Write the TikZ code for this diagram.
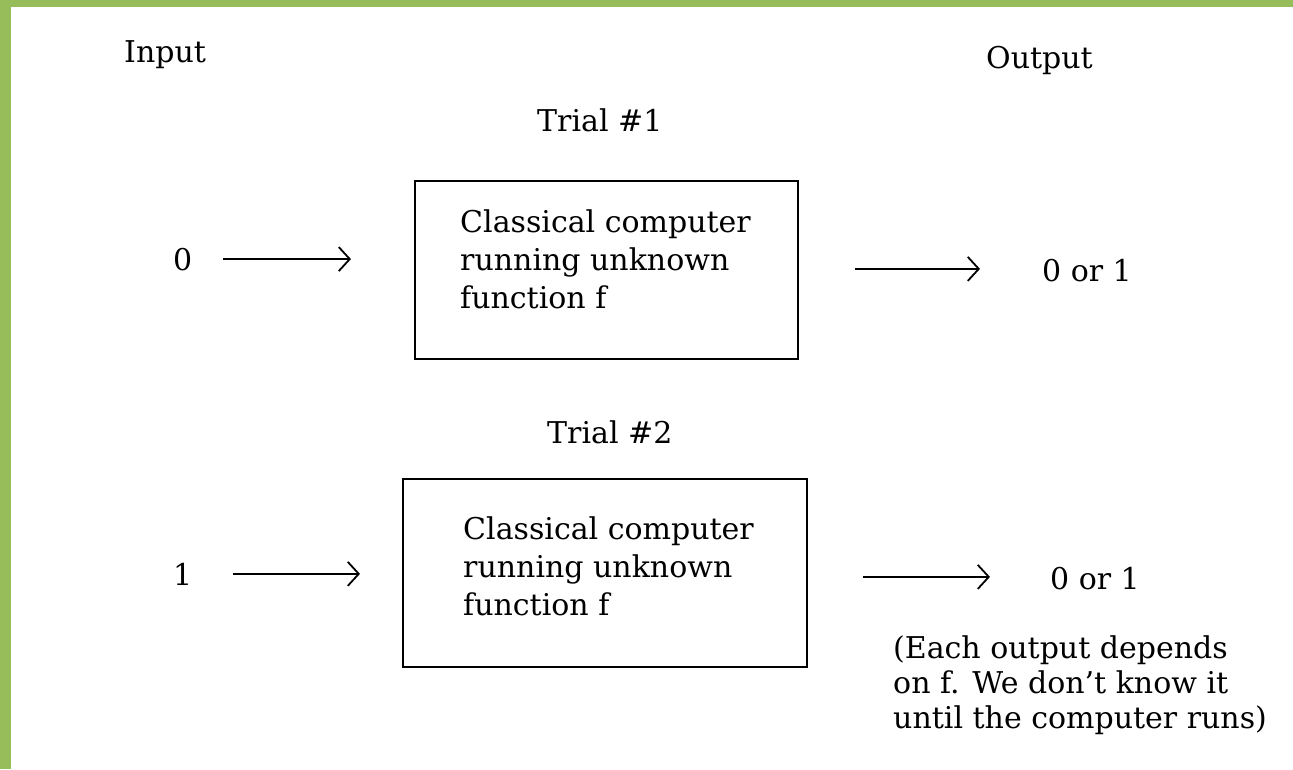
\documentclass[tikz,border=0pt]{standalone}
\usepackage{fontspec}
\setmainfont{DejaVu Serif}
\usetikzlibrary{arrows.meta}
\definecolor{framegreen}{RGB}{150,189,90}
\begin{document}
\begin{tikzpicture}[x=1pt,y=-1pt,
  txt/.style={inner sep=0pt, anchor=base west, font=\fontsize{30}{38}\selectfont},
  box/.style={draw, line width=1.8pt, inner sep=0pt, anchor=north west},
  arr/.style={line width=1.8pt, -{Straight Barb[length=11pt,width=24pt]}}]
\useasboundingbox (0,0) rectangle (1293,769);
\fill[framegreen] (0,0) rectangle (1293,7);
\fill[framegreen] (0,0) rectangle (11,769);

% headers
\node[txt] (inp) at (124,62) {Input};
\node[txt] (outp) at (986,68) {Output};
\node[txt] (t1) at (537,131) {Trial \#1};
\node[txt] (t2) at (547,443) {Trial \#2};

% boxes
\node[box, minimum width=383pt, minimum height=178pt] (b1) at (414,180) {};
\node[box, minimum width=404pt, minimum height=188pt] (b2) at (402,478) {};

% box texts
\node[txt] (b1l1) at (460,232) {Classical computer};
\node[txt] (b1l2) at (460,270) {running unknown};
\node[txt] (b1l3) at (460,308) {function f};
\node[txt] (b2l1) at (463,539) {Classical computer};
\node[txt] (b2l2) at (463,577) {running unknown};
\node[txt] (b2l3) at (463,615) {function f};

% inputs and outputs
\node[txt] (in0) at (173,270) {0};
\node[txt] (in1) at (173,585) {1};
\node[txt] (o1) at (1042,281) {0 or 1};
\node[txt] (o2) at (1050,589) {0 or 1};

% arrows
\draw[arr] ([xshift=31pt]in0.east) -- ([xshift=-63pt]in0.east -| b1.west);
\draw[arr] ([xshift=56pt,yshift=1pt]b1.east) -- ([xshift=-62pt,yshift=1pt]b1.east -| o1.west);
\draw[arr] ([xshift=41pt]in1.east) -- ([xshift=-42pt]in1.east -| b2.west);
\draw[arr] ([xshift=55pt,yshift=-4pt]b2.east) -- ([xshift=-60pt,yshift=-4pt]b2.east -| o2.west);

% note
\node[txt] (n1) at (893,658) {(Each output depends};
\node[txt] (n2) at (893,693) {on f. We don't know it};
\node[txt] (n3) at (893,728) {until the computer runs)};
\end{tikzpicture}
\end{document}
